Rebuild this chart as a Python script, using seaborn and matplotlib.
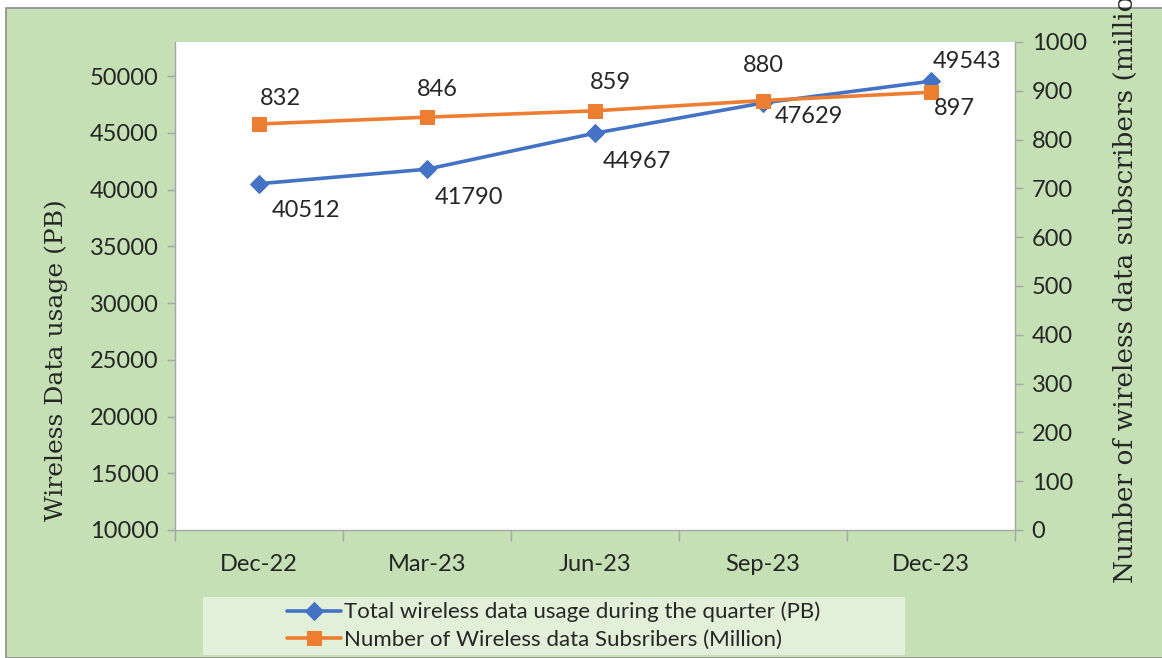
import seaborn as sns
import matplotlib.pyplot as plt
import pandas as pd
from matplotlib.patches import Rectangle
from matplotlib.ticker import FixedLocator, NullFormatter

# Quarterly wireless data figures
quarters = ['Dec-22', 'Mar-23', 'Jun-23', 'Sep-23', 'Dec-23']
usage_pb = [40512, 41790, 44967, 47629, 49543]
subscribers_mn = [832, 846, 859, 880, 897]

usage_label = 'Total wireless data usage during the quarter (PB)'
subs_label = 'Number of Wireless data Subsribers (Million)'

df = pd.DataFrame({'pos': range(len(quarters)), 'usage': usage_pb, 'subs': subscribers_mn})

sns.set_style('white')
plt.rcParams['font.family'] = ['Lato', 'DejaVu Sans']

blue = '#4472C4'
orange = '#ED7D31'
green_bg = '#C5E0B4'
grey = '#A6A6A6'
fs = 17

fig = plt.figure(figsize=(11.62, 6.58), dpi=100, facecolor='white')
fig.patches.append(Rectangle((6 / 1162, 0), 1, 1 - 8 / 658, transform=fig.transFigure,
                             facecolor=green_bg, edgecolor='#8C8C8C', linewidth=1.2, zorder=-10))
fig.patches.append(Rectangle((203 / 1162, 3 / 658), 702 / 1162, 58 / 658, transform=fig.transFigure,
                             facecolor='#E2EFD9', edgecolor='none', zorder=-5))

ax = fig.add_axes([175 / 1162, 128 / 658, 840 / 1162, 488 / 658])
ax.set_facecolor('white')
ax2 = ax.twinx()

sns.lineplot(data=df, x='pos', y='usage', ax=ax, color=blue, linewidth=2.6,
             marker='D', markersize=9, markeredgecolor=blue, label=usage_label, legend=False, zorder=3)
sns.lineplot(data=df, x='pos', y='subs', ax=ax2, color=orange, linewidth=2.6,
             marker='s', markersize=10, markeredgecolor=orange, label=subs_label, legend=False, zorder=3)

ax.set_xlim(-0.5, len(quarters) - 0.5)
ax.set_ylim(10000, 53000)
ax2.set_ylim(0, 1000)
ax.set_yticks(range(10000, 50001, 5000))
ax2.set_yticks(range(0, 1001, 100))

# x ticks sit between categories, labels at categories
ax.xaxis.set_major_locator(FixedLocator([i - 0.5 for i in range(len(quarters) + 1)]))
ax.xaxis.set_major_formatter(NullFormatter())
ax.xaxis.set_minor_locator(FixedLocator(list(range(len(quarters)))))
ax.set_xticklabels(quarters, minor=True)
ax.tick_params(axis='x', which='major', direction='out', length=8, width=1, color=grey, bottom=True)
ax.tick_params(axis='x', which='minor', length=0, pad=17, labelsize=fs)
ax.tick_params(axis='y', direction='out', length=6, width=1, color=grey, left=True, labelsize=fs, pad=6)
ax2.tick_params(axis='y', direction='out', length=6, width=1, color=grey, right=True, labelsize=fs, pad=6)

for a in (ax, ax2):
    for side in ('left', 'right', 'bottom'):
        a.spines[side].set_color(grey)
        a.spines[side].set_linewidth(1)
    a.spines['top'].set_visible(False)
ax.spines['right'].set_visible(False)
ax2.spines['left'].set_visible(False)
ax2.spines['bottom'].set_visible(False)

ax.set_xlabel('')
ax.set_ylabel('Wireless Data usage (PB)', family='DejaVu Serif', fontsize=18)
ax.yaxis.set_label_coords(-0.127, 0.348)
ax2.set_ylabel('')
# the reference cuts this label at the top edge of the figure
fig.text(1125 / 1162, 75 / 658, 'Number of wireless data subscribers (million)',
         family='DejaVu Serif', fontsize=19, rotation=90, ha='center', va='bottom')

# data labels (offsets in pixels)
usage_offsets = [(47, -27), (42, -28), (42, -28), (46, -14), (36, 20)]
subs_offsets = [(21, 25), (10, 28), (15, 28), (0, 35), (23, -16)]
for i, v in enumerate(usage_pb):
    dx, dy = usage_offsets[i]
    ax.annotate(str(v), (i, v), xytext=(dx * 0.72, dy * 0.72), textcoords='offset points',
                ha='center', va='center', fontsize=fs)
for i, v in enumerate(subscribers_mn):
    dx, dy = subs_offsets[i]
    ax2.annotate(str(v), (i, v), xytext=(dx * 0.72, dy * 0.72), textcoords='offset points',
                 ha='center', va='center', fontsize=fs)

handles = ax.get_lines()[:1] + ax2.get_lines()[:1]
fig.legend(handles, [usage_label, subs_label], loc='center left',
           bbox_to_anchor=(274 / 1162, 32 / 658), frameon=False, fontsize=16,
           handlelength=2.4, handletextpad=0.15, labelspacing=0.35, borderpad=0.1)

fig.savefig('out.png', dpi=100, facecolor=fig.get_facecolor())
